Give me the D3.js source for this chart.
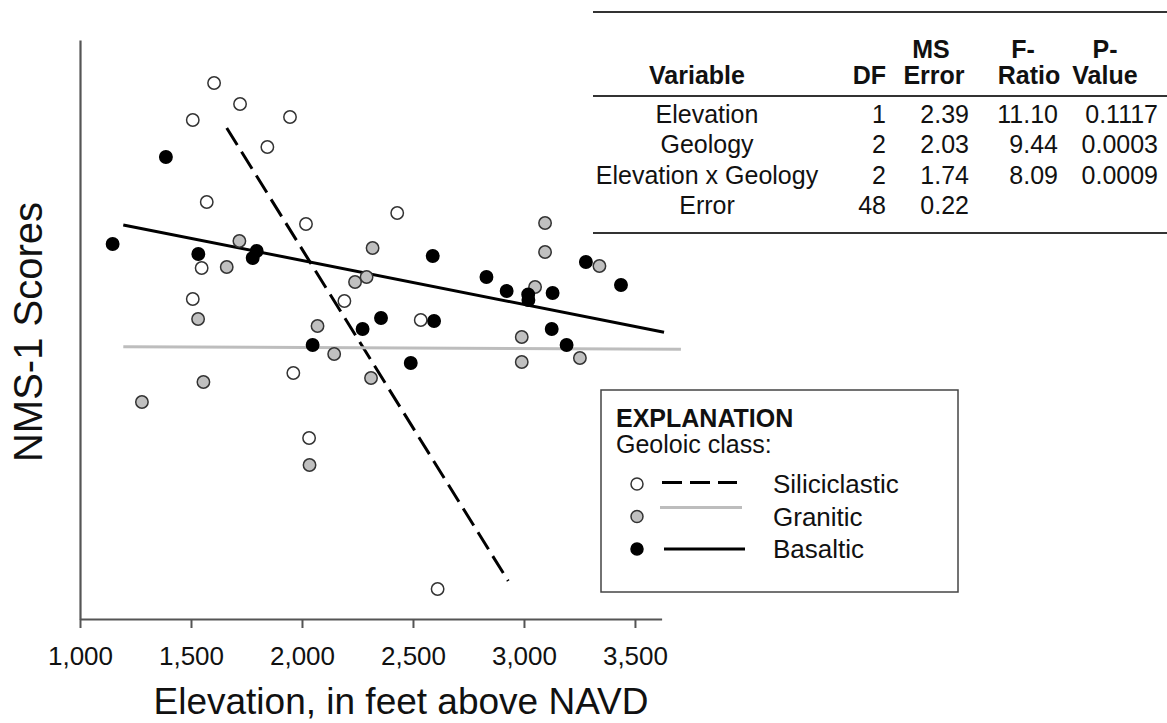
<!DOCTYPE html>
<html>
<head>
<meta charset="utf-8">
<script src="https://cdn.jsdelivr.net/npm/d3@7"></script>
<style>
  html, body { margin: 0; padding: 0; background: #fff; }
  svg { display: block; font-family: "Liberation Sans", Arial, Helvetica, sans-serif; }
</style>
</head>
<body>
<svg id="chart" width="1167" height="723"></svg>
<script>
// Site data: elevation (ft above NAVD) and NMS axis-1 score, by geologic class
const siliciclasticElev  = [1604, 1721, 1508, 1946, 1844, 1571, 2018, 2429, 1548, 1508, 2191, 2535, 1961, 2032, 2611];
const siliciclasticScore = [2.36, 2.15, 1.99, 2.02, 1.72, 1.17, 0.95, 1.06, 0.51, 0.20, 0.18, -0.01, -0.54, -1.19, -2.70];

const graniticElev  = [1718, 1661, 1532, 1556, 1279, 2070, 2318, 2239, 2291, 2145, 2311, 2034, 3095, 3095, 3340, 3050, 2990, 2990, 3252];
const graniticScore = [0.78, 0.52, 0.00, -0.63, -0.83, -0.07, 0.71, 0.37, 0.42, -0.35, -0.59, -1.46, 0.96, 0.67, 0.53, 0.32, -0.18, -0.43, -0.39];

const basalticElev  = [1387, 1147, 1533, 1796, 1778, 2048, 2273, 2356, 2595, 2589, 2490, 2831, 2922, 3019, 3020, 3129, 3279, 3437, 3125, 3192];
const basalticScore = [1.62, 0.75, 0.65, 0.68, 0.61, -0.26, -0.10, 0.01, -0.02, 0.63, -0.44, 0.42, 0.28, 0.245, 0.19, 0.26, 0.57, 0.34, -0.10, -0.26];

// Fitted regression lines: [startElev, startScore, endElev, endScore]
const siliciclasticFit = [1661, 1.91, 2929, -2.62];
const graniticFit      = [1195, -0.277, 3707, -0.303];
const basalticFit      = [1195, 0.94, 3631, -0.133];

const elevTicks = [1000, 1500, 2000, 2500, 3000, 3500];

// ANOVA table
const anovaVariable = ["Elevation", "Geology", "Elevation x Geology", "Error"];
const anovaDF       = ["1", "2", "2", "48"];
const anovaMS       = ["2.39", "2.03", "1.74", "0.22"];
const anovaF        = ["11.10", "9.44", "8.09", ""];
const anovaP        = ["0.1117", "0.0003", "0.0009", ""];

const classNames = ["Siliciclastic", "Granitic", "Basaltic"];

const styles = {
  Siliciclastic: { fill: "#ffffff", line: "#000000", dash: "20,8", width: 3 },
  Granitic:      { fill: "#c0c0c0", line: "#bdbdbd", dash: null,   width: 3 },
  Basaltic:      { fill: "#000000", line: "#000000", dash: null,   width: 3 }
};

const svg = d3.select("#chart");

const x = d3.scaleLinear().domain([1000, 3620]).range([80, 661.6]);
const y = d3.scaleLinear().domain([-3.0, 2.79]).range([619, 40]);

// Axes
const xAxis = svg.append("g")
  .attr("transform", `translate(0,${y(-3.0)})`)
  .call(d3.axisBottom(x).tickValues(elevTicks).tickFormat(d3.format(",")).tickSize(9).tickSizeOuter(0).tickPadding(19));
xAxis.select(".domain").attr("stroke", "#555").attr("stroke-width", 2.2);
xAxis.selectAll(".tick line").attr("stroke", "#555").attr("stroke-width", 2);
xAxis.selectAll(".tick text").attr("font-size", 26).attr("fill", "#111")
  .attr("font-family", "'Liberation Sans', Arial, sans-serif");

const yAxis = svg.append("g")
  .attr("transform", `translate(${x(1000)},0)`)
  .call(d3.axisLeft(y).tickValues([]).tickSizeOuter(0));
yAxis.select(".domain").attr("stroke", "#555").attr("stroke-width", 2.2);

svg.append("text")
  .attr("x", 401).attr("y", 714)
  .attr("text-anchor", "middle")
  .attr("font-size", 37).attr("fill", "#111")
  .text("Elevation, in feet above NAVD");

svg.append("text")
  .attr("transform", "translate(42,332) rotate(-90)")
  .attr("text-anchor", "middle")
  .attr("font-size", 40).attr("fill", "#111")
  .text("NMS-1 Scores");

// Regression lines
const fits = [
  { name: "Siliciclastic", v: siliciclasticFit },
  { name: "Granitic", v: graniticFit },
  { name: "Basaltic", v: basalticFit }
];
svg.append("g").selectAll("line").data(fits).join("line")
  .attr("x1", d => x(d.v[0])).attr("y1", d => y(d.v[1]))
  .attr("x2", d => x(d.v[2])).attr("y2", d => y(d.v[3]))
  .attr("stroke", d => styles[d.name].line)
  .attr("stroke-width", d => styles[d.name].width)
  .attr("stroke-dasharray", d => styles[d.name].dash);

// Points
const groups = [
  { name: "Siliciclastic", elev: siliciclasticElev, score: siliciclasticScore },
  { name: "Granitic", elev: graniticElev, score: graniticScore },
  { name: "Basaltic", elev: basalticElev, score: basalticScore }
];
groups.forEach(g => {
  const pts = g.elev.map((e, i) => ({ e, s: g.score[i] }));
  svg.append("g").selectAll("circle").data(pts).join("circle")
    .attr("cx", d => x(d.e)).attr("cy", d => y(d.s))
    .attr("r", 6.2)
    .attr("fill", styles[g.name].fill)
    .attr("stroke", g.name === "Basaltic" ? "#000" : "#333")
    .attr("stroke-width", 1.5);
});

// ANOVA table
const tbl = svg.append("g").attr("font-size", 25).attr("fill", "#111");
const rule = (yy) => tbl.append("line").attr("x1", 593).attr("x2", 1167)
  .attr("y1", yy).attr("y2", yy).attr("stroke", "#333").attr("stroke-width", 2.2);
rule(12); rule(96); rule(233);

const head = tbl.append("g").attr("font-weight", "bold");
head.append("text").attr("x", 697).attr("y", 84).attr("text-anchor", "middle").text("Variable");
head.append("text").attr("x", 886).attr("y", 84).attr("text-anchor", "end").text("DF");
head.append("text").attr("x", 931).attr("y", 58).attr("text-anchor", "middle").text("MS");
head.append("text").attr("x", 934).attr("y", 84).attr("text-anchor", "middle").text("Error");
head.append("text").attr("x", 1023).attr("y", 58).attr("text-anchor", "middle").text("F-");
head.append("text").attr("x", 1029).attr("y", 84).attr("text-anchor", "middle").text("Ratio");
head.append("text").attr("x", 1105).attr("y", 58).attr("text-anchor", "middle").text("P-");
head.append("text").attr("x", 1105).attr("y", 84).attr("text-anchor", "middle").text("Value");

const rowY = d3.scalePoint().domain(anovaVariable).range([123, 214]);
const cols = [
  { vals: anovaVariable, x: 707, anchor: "middle" },
  { vals: anovaDF, x: 886, anchor: "end" },
  { vals: anovaMS, x: 969, anchor: "end" },
  { vals: anovaF, x: 1058, anchor: "end" },
  { vals: anovaP, x: 1158, anchor: "end" }
];
cols.forEach(c => {
  tbl.append("g").selectAll("text").data(c.vals).join("text")
    .attr("x", c.x).attr("y", (d, i) => rowY(anovaVariable[i]))
    .attr("text-anchor", c.anchor).text(d => d);
});

// Legend
const lg = svg.append("g");
lg.append("rect").attr("x", 601).attr("y", 390).attr("width", 357).attr("height", 202)
  .attr("fill", "#fff").attr("stroke", "#444").attr("stroke-width", 1.5);
lg.append("text").attr("x", 616).attr("y", 427).attr("font-size", 25).attr("font-weight", "bold")
  .attr("fill", "#111").text("EXPLANATION");
lg.append("text").attr("x", 616).attr("y", 453).attr("font-size", 25)
  .attr("fill", "#111").text("Geoloic class:");

const legY = d3.scalePoint().domain(classNames).range([484, 549]);
const legLine = { Siliciclastic: [662, 737, -1.5], Granitic: [660, 742, -9], Basaltic: [664, 745, 0] };
classNames.forEach(n => {
  const yy = legY(n);
  const [lx0, lx1, dy] = legLine[n];
  lg.append("circle").attr("cx", 637).attr("cy", yy).attr("r", 6)
    .attr("fill", styles[n].fill).attr("stroke", n === "Basaltic" ? "#000" : "#333").attr("stroke-width", 1.5);
  lg.append("line").attr("x1", lx0).attr("x2", lx1).attr("y1", yy + dy).attr("y2", yy + dy)
    .attr("stroke", styles[n].line).attr("stroke-width", styles[n].width)
    .attr("stroke-dasharray", styles[n].dash);
  lg.append("text").attr("x", 773).attr("y", yy + 9).attr("font-size", 26)
    .attr("fill", "#111").text(n);
});
</script>
</body>
</html>
